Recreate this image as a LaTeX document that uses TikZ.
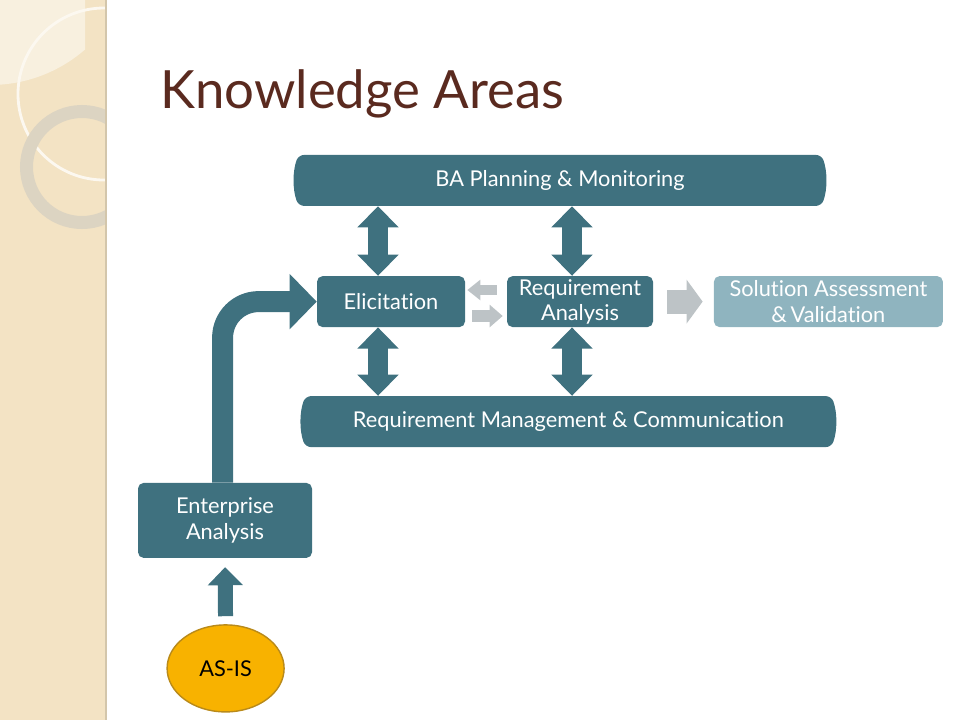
\documentclass[tikz,border=0pt]{standalone}
\usepackage{fontspec}
\setmainfont{Lato}[Ligatures=CommonOff]
\usepackage{tikz}
\usetikzlibrary{arrows.meta,positioning,shapes.geometric,shapes.misc,calc}

\definecolor{bateal}{HTML}{3F717F}
\definecolor{balight}{HTML}{8FB4BF}
\definecolor{bagray}{HTML}{BDC3C6}
\definecolor{stripbg}{HTML}{F3E3C4}
\definecolor{stripedge}{HTML}{D3C6AB}
\definecolor{stripring}{HTML}{DCD4C2}
\definecolor{titlebrown}{HTML}{5A2A1F}
\definecolor{asisfill}{HTML}{F8B200}
\definecolor{asisdraw}{HTML}{B98A1A}

\begin{document}
\begin{tikzpicture}[>=Latex]
        \tikzset{kabox/.style={rectangle, rounded corners=4pt, fill=bateal, text=white, align=center, inner sep=0pt, minimum height=1.275cm, font=\fontsize{15.5}{18}\selectfont},
                 kabar/.style={kabox, rounded rectangle, rounded rectangle arc length=40},
                 dblarrow/.style={bateal, line width=0.5cm, {Triangle[width=1.0cm,length=0.53cm]}-{Triangle[width=1.0cm,length=0.53cm]}},
                 bentarrow/.style={bateal, line width=0.525cm, rounded corners=0.9cm, -{Triangle[width=1.35cm,length=0.68cm]}},
                 grayarrow/.style={bagray, -{Triangle[width=#1,length=0.33cm]}}}
        \useasboundingbox (0,0) rectangle (24,-18);
        % side strip
        \fill[stripbg] (0,0) rectangle (2.65,-18);
        \begin{scope}
            \clip (0,0) rectangle (2.65,-18);
            \begin{scope}
                \clip (0,0) rectangle (2.125,-2.125);
                \fill[white!45!stripbg] (-0.25,1.5) circle (3.625);
            \end{scope}
            \draw[white!75!stripbg, line width=2pt] (2.6,-2.35) circle (2.15);
            \draw[stripring, line width=0.325cm] (2.05,-4.175) circle (1.3875);
        \end{scope}
        \draw[stripedge, line width=1.5pt] (2.65,0) -- (2.65,-18);
        % title
        \node[anchor=base west, inner sep=0pt, text=titlebrown, font=\fontsize{37.5}{42}\selectfont] (title) at (4.0,-2.7) {Knowledge Areas};
        % boxes
        \node[kabar, minimum width=13.3cm] (ba) at (14.0,-4.51) {BA Planning \& Monitoring};
        \node[kabox, minimum width=3.7cm] (eli) at (9.775,-7.54) {Elicitation};
        \node[kabox, minimum width=3.65cm] (ra) at (14.5,-7.54) {Requirement\\Analysis};
        \node[kabox, fill=balight, minimum width=5.725cm] (sa) at (20.71,-7.54) {Solution Assessment\\\&\,Validation};
        \node[kabar, minimum width=13.375cm] (rmc) at (14.21,-10.54) {Requirement Management \& Communication};
        \node[kabox, minimum width=4.35cm, minimum height=1.875cm] (ea) at (5.625,-13.01) {Enterprise\\Analysis};
        \node[ellipse, fill=asisfill, draw=asisdraw, line width=1pt, minimum width=2.925cm, minimum height=2.175cm, font=\fontsize{15.5}{18}\selectfont] (asis) at (5.64,-16.71) {AS-IS};
        % arrows
        \coordinate (c1) at (9.45,0);
        \coordinate (c2) at (14.3,0);
        \foreach \c/\n in {c1/eli,c2/ra} {
            \draw[dblarrow] (ba.south -| \c) -- (\n.north -| \c);
            \draw[dblarrow] (\n.south -| \c) -- (rmc.north -| \c);
        }
        \draw[bentarrow] ([xshift=-0.06cm]ea.north) |- (eli.west);
        \draw[bateal, line width=0.375cm, shorten <=0.2cm, shorten >=0.225cm, -{Triangle[width=0.85cm,length=0.45cm]}] (asis.north) -- (ea.south);
        \draw[grayarrow=0.5cm, line width=0.25cm] ([yshift=0.29cm,xshift=-0.25cm]ra.west) -- ([yshift=0.29cm,xshift=0.05cm]eli.east);
        \draw[grayarrow=0.55cm, line width=0.3cm] ([yshift=-0.36cm,xshift=0.175cm]eli.east) -- ([yshift=-0.36cm,xshift=-0.1cm]ra.west);
        \draw[bagray, line width=0.6cm, -{Triangle[width=1.075cm,length=0.4cm]}] ([xshift=0.35cm]ra.east) -- ([xshift=-0.275cm]sa.west);
    \end{tikzpicture}
\end{document}
